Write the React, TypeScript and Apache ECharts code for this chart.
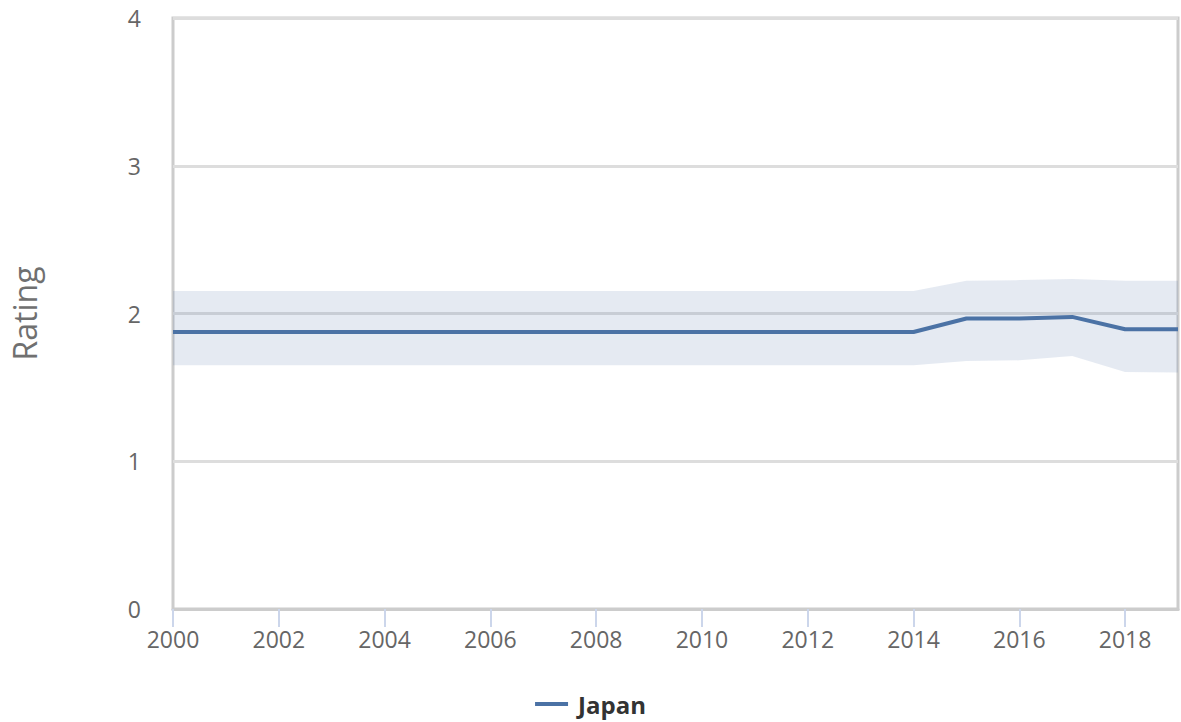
import React, { useEffect, useRef } from "react";
import * as echarts from "echarts";

// Yearly rating for Japan with its uncertainty band
const years = ["2000", "2001", "2002", "2003", "2004", "2005", "2006", "2007", "2008", "2009", "2010", "2011", "2012", "2013", "2014", "2015", "2016", "2017", "2018", "2019"];
const rating = [1.875, 1.875, 1.875, 1.875, 1.875, 1.875, 1.875, 1.875, 1.875, 1.875, 1.875, 1.875, 1.875, 1.875, 1.875, 1.966, 1.966, 1.977, 1.893, 1.893];
const bandLow = [1.65, 1.65, 1.65, 1.65, 1.65, 1.65, 1.65, 1.65, 1.65, 1.65, 1.65, 1.65, 1.65, 1.65, 1.65, 1.678, 1.683, 1.712, 1.604, 1.6];
const bandHigh = [2.153, 2.153, 2.153, 2.153, 2.153, 2.153, 2.153, 2.153, 2.153, 2.153, 2.153, 2.153, 2.153, 2.153, 2.153, 2.221, 2.226, 2.233, 2.221, 2.221];

const FONT = "'Open Sans', 'DejaVu Sans', sans-serif";
const LINE = "#4b72a5";

export default function App() {
  const ref = useRef<HTMLDivElement>(null);

  useEffect(() => {
    document.body.style.margin = "0";
    document.body.style.overflow = "hidden";
    if (!ref.current) return;
    const chart = echarts.init(ref.current, null, { renderer: "svg" });
    chart.setOption({
      animation: false,
      grid: {
        left: 172,
        right: 3,
        top: 18,
        bottom: 113,
        show: true,
        borderColor: "#cccccc",
        borderWidth: 3,
        backgroundColor: "transparent",
      },
      legend: {
        data: ["Japan"],
        bottom: 1,
        left: "center",
        icon: "rect",
        itemWidth: 33,
        itemHeight: 4,
        textStyle: {
          fontFamily: FONT,
          fontSize: 24,
          fontWeight: "bold",
          color: "#333333",
          padding: [0, 0, 0, 5],
        },
      },
      xAxis: {
        type: "category",
        data: years,
        boundaryGap: false,
        axisLine: { show: true, lineStyle: { color: "#cccccc", width: 3 } },
        axisTick: { show: true, interval: 1, length: 18, lineStyle: { color: "#ccd6eb", width: 2 } },
        splitLine: { show: false },
        axisLabel: {
          interval: 1,
          fontFamily: FONT,
          fontSize: 23,
          color: "#666666",
          margin: 18,
        },
      },
      yAxis: {
        type: "value",
        min: 0,
        max: 4,
        interval: 1,
        name: "Rating",
        nameLocation: "middle",
        nameGap: 133,
        nameTextStyle: { fontFamily: FONT, fontSize: 32, color: "#707070" },
        axisLine: { show: false },
        axisTick: { show: false },
        splitLine: { show: true, lineStyle: { color: "#dddddd", width: 3 } },
        axisLabel: { fontFamily: FONT, fontSize: 23, color: "#666666", margin: 32 },
      },
      series: [
        {
          name: "bandBase",
          type: "line",
          stack: "band",
          symbol: "none",
          silent: true,
          lineStyle: { opacity: 0 },
          data: bandLow,
        },
        {
          name: "bandSpan",
          type: "line",
          stack: "band",
          symbol: "none",
          silent: true,
          lineStyle: { opacity: 0 },
          areaStyle: { color: "rgba(79,115,165,0.15)", opacity: 1 },
          data: bandHigh.map((h, i) => +(h - bandLow[i]).toFixed(3)),
        },
        {
          name: "Japan",
          type: "line",
          symbol: "none",
          color: LINE,
          lineStyle: { color: LINE, width: 4 },
          data: rating,
        },
      ],
    });
    return () => chart.dispose();
  }, []);

  return <div ref={ref} style={{ width: 1181, height: 722 }} />;
}
